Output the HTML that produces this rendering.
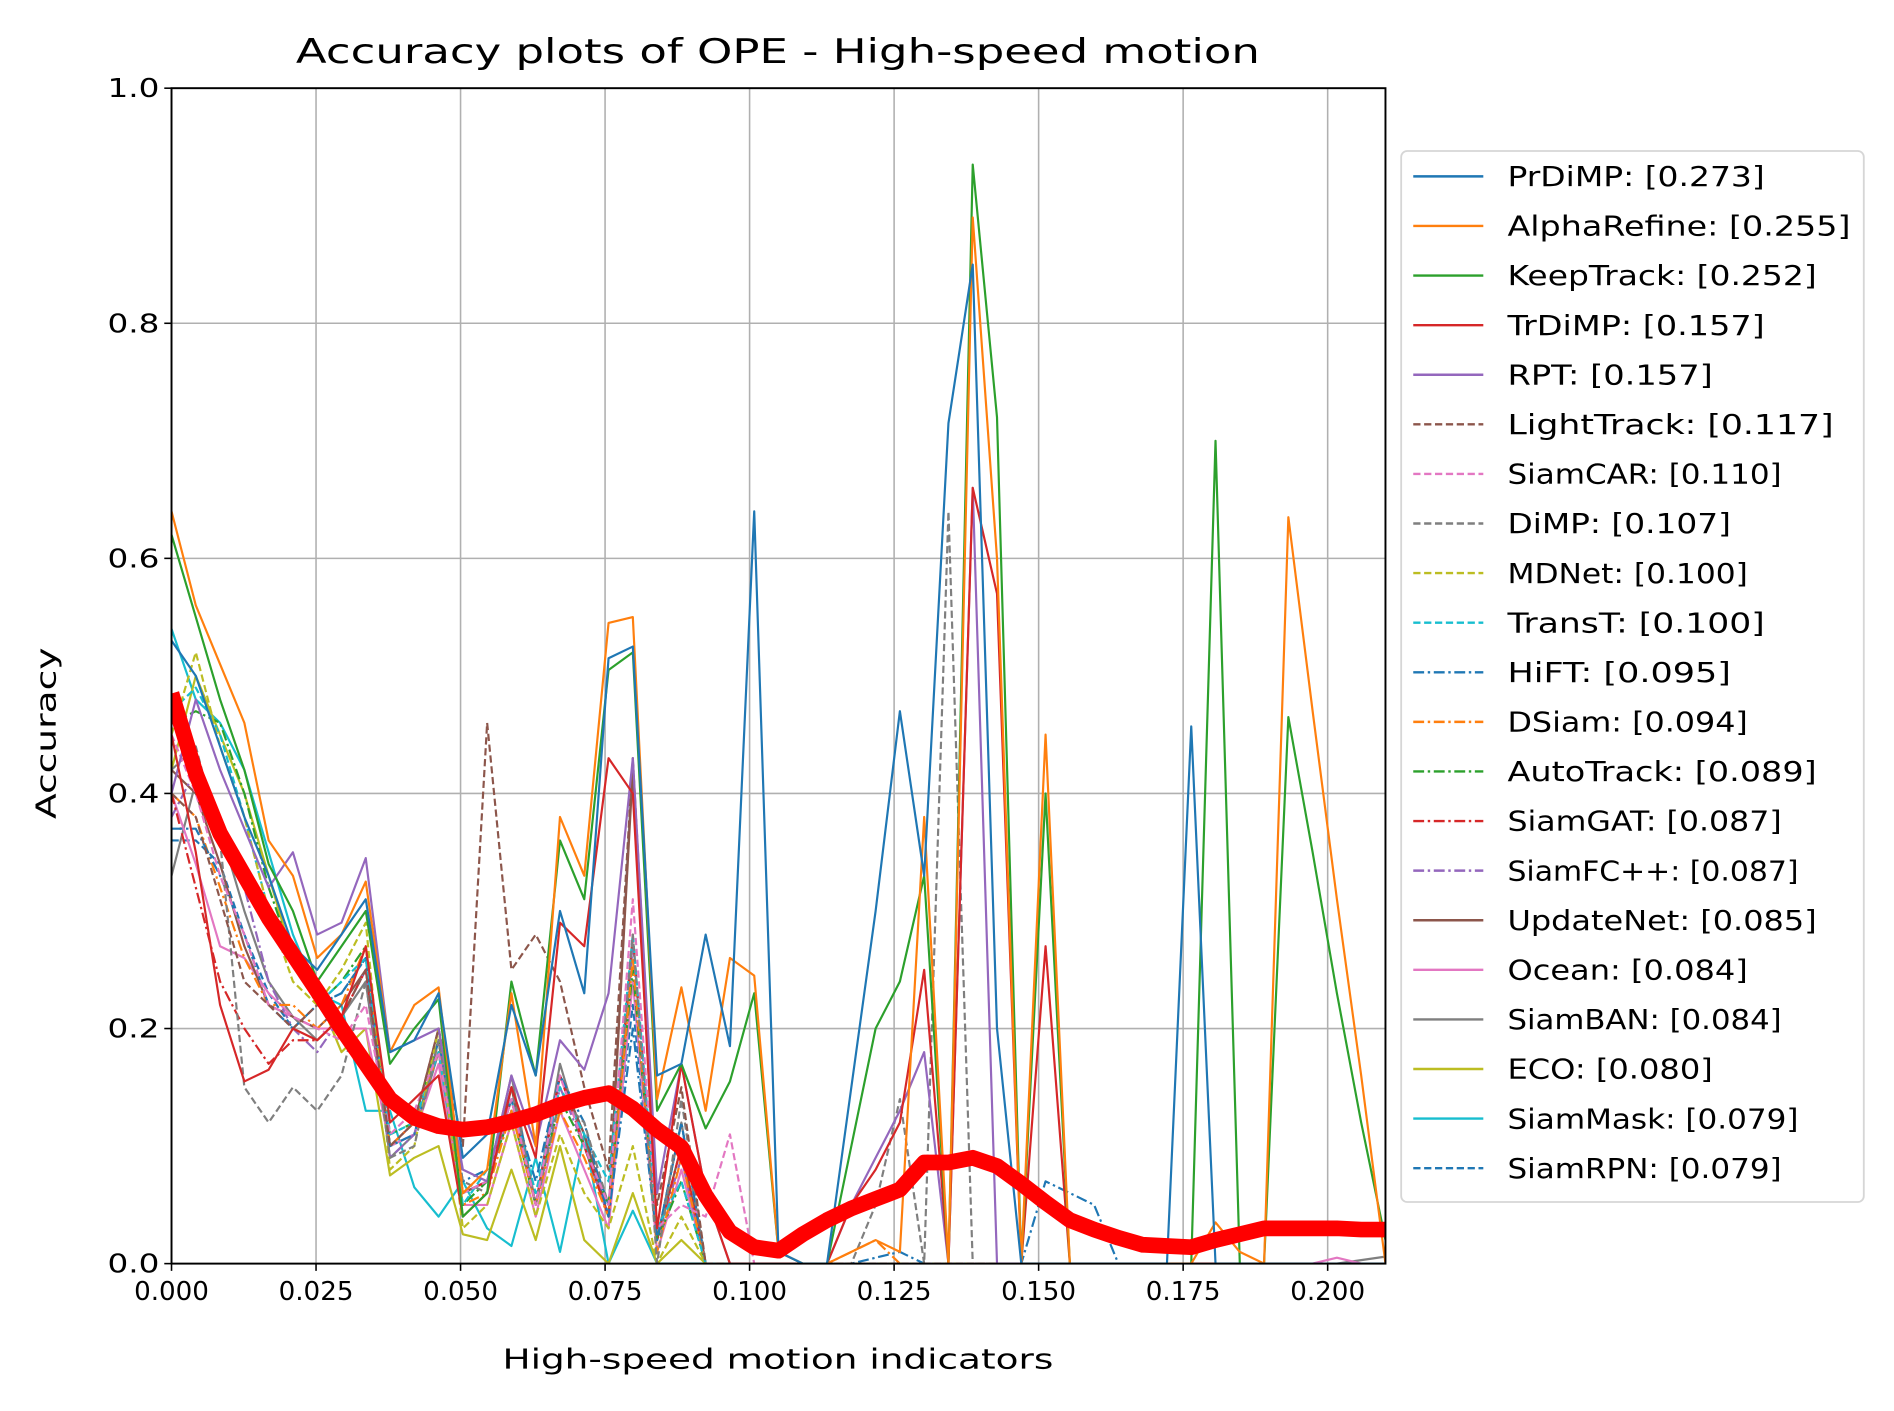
<!DOCTYPE html>
<html><head><meta charset="utf-8"><style>html,body{margin:0;padding:0;background:#fff}svg{display:block}</style></head>
<body>
<svg id="chart" width="1894" height="1411" viewBox="0 0 1568 1168" preserveAspectRatio="none" xmlns="http://www.w3.org/2000/svg" font-family="'DejaVu Sans','Liberation Sans',sans-serif">
<rect width="1568" height="1168" fill="#fff"/>
<text x="644" y="52" font-size="28" text-anchor="middle" textLength="798" lengthAdjust="spacingAndGlyphs">Accuracy plots of OPE - High-speed motion</text>
<g id="grid"></g>
<defs><clipPath id="clip"><rect x="142" y="73" width="1005" height="973"/></clipPath></defs>
<g id="series" clip-path="url(#clip)"></g>
<rect x="142" y="73" width="1005" height="973" fill="none" stroke="#000" stroke-width="1.6"/>
<g id="ticks"></g>
<text x="644" y="1133" font-size="22.5" text-anchor="middle" textLength="456" lengthAdjust="spacingAndGlyphs">High-speed motion indicators</text>
<text x="561" y="46" font-size="22.5" text-anchor="middle" textLength="142" lengthAdjust="spacingAndGlyphs" transform="rotate(-90 46 46) translate(-1076 0)">Accuracy</text>
<g id="legend"></g>
</svg>
<script>
const xTicks=[0,0.025,0.05,0.075,0.1,0.125,0.15,0.175,0.2];
const xTickLabels=["0.000","0.025","0.050","0.075","0.100","0.125","0.150","0.175","0.200"];
const yTicks=[0,0.2,0.4,0.6,0.8,1.0];
const yTickLabels=["0.0","0.2","0.4","0.6","0.8","1.0"];
const step=0.0042;
const names=["PrDiMP: [0.273]","AlphaRefine: [0.255]","KeepTrack: [0.252]","TrDiMP: [0.157]","RPT: [0.157]","LightTrack: [0.117]","SiamCAR: [0.110]","DiMP: [0.107]","MDNet: [0.100]","TransT: [0.100]","HiFT: [0.095]","DSiam: [0.094]","AutoTrack: [0.089]","SiamGAT: [0.087]","SiamFC++: [0.087]","UpdateNet: [0.085]","Ocean: [0.084]","SiamBAN: [0.084]","ECO: [0.080]","SiamMask: [0.079]","SiamRPN: [0.079]"];
const sPrDiMP=[.53,.50,.44,.38,.33,.27,.25,.28,.31,.18,.19,.23,.09,.11,.22,.16,.30,.23,.515,.525,.16,.17,.28,.185,.64,.01,0,0,.15,.30,.47,.33,.715,.85,.2,0,0,0,0,0,0,0,.457,0,0,0,0,0,0,0,0];
const sAlpha=[.64,.56,.51,.46,.36,.33,.26,.28,.325,.18,.22,.235,.06,.08,.23,.10,.38,.33,.545,.55,.14,.235,.13,.26,.245,.01,0,0,.01,.02,.01,.38,0,.89,.60,0,.45,0,0,0,0,0,0,.035,.01,0,.635,.47,.31,.16,0];
const sKeep=[.62,.55,.48,.42,.34,.30,.24,.27,.30,.17,.20,.225,.04,.06,.24,.16,.36,.31,.505,.52,.13,.17,.115,.155,.23,.01,0,0,.10,.20,.24,.33,0,.935,.72,0,.40,0,0,0,0,0,0,.70,0,0,.465,.35,.23,.12,.02];
const sTrDiMP=[.45,.35,.22,.155,.165,.20,.19,.21,.27,.12,.14,.16,.04,.06,.15,.09,.29,.27,.43,.40,.03,.17,.06,0,0,0,0,0,.05,.08,.12,.25,0,.66,.57,0,.27,0,0,0,0,0,0,0,0,0,0,0,0,0,0];
const sRPT=[.40,.48,.42,.37,.32,.35,.28,.29,.345,.18,.19,.20,.08,.07,.16,.10,.19,.165,.23,.43,.06,.17,.06,0,0,0,0,0,.05,.09,.13,.18,0,.66,0,0,0,0,0,0,0,0,0,0,0,0,0,0,0,0,0];
const sLight=[.40,.38,.31,.24,.22,.20,.22,.21,.25,.10,.12,.20,.10,.46,.25,.28,.24,.15,.08,.43,.05,.15,0,0,0,0,0,0,0,0,0,0,0,0,0,0,0,0,0,0,0,0,0,0,0,0,0,0,0,0,0];
const sCAR=[.45,.40,.33,.28,.22,.21,.20,.19,.22,.11,.13,.18,.06,.07,.14,.05,.16,.10,.05,.31,.03,.05,.04,.11,0,0,0,0,0,0,0,0,0,0,0,0,0,0,0,0,0,0,0,0,0,0,0,0,0,0,0];
const sDiMP=[.42,.44,.36,.15,.12,.15,.13,.16,.24,.09,.10,.19,.07,.06,.15,.05,.14,.12,.05,.28,0,.14,0,0,0,0,0,0,0,.05,.14,0,.64,0,0,0,0,0,0,0,0,0,0,0,0,0,0,0,0,0,0];
const sMDNet=[.45,.52,.44,.38,.30,.24,.22,.25,.29,.08,.10,.20,.03,.05,.12,.04,.11,.06,.03,.10,0,.04,0,0,0,0,0,0,0,0,0,0,0,0,0,0,0,0,0,0,0,0,0,0,0,0,0,0,0,0,0];
const sTransT=[.47,.49,.45,.38,.30,.26,.22,.24,.26,.11,.12,.18,.05,.08,.14,.06,.15,.11,.07,.28,.03,.07,0,0,0,0,0,0,0,0,0,0,0,0,0,0,0,0,0,0,0,0,0,0,0,0,0,0,0,0,0];
const sHiFT=[.37,.37,.33,.28,.22,.20,.22,.23,.26,.10,.11,.19,.07,.08,.14,.07,.16,.12,.04,.20,.02,.12,0,0,0,0,0,0,0,.005,.01,0,0,0,0,0,.07,.06,.05,0,0,0,0,0,0,0,0,0,0,0,0];
const sDSiam=[.40,.38,.32,.26,.22,.22,.20,.22,.27,.10,.12,.18,.05,.06,.13,.05,.13,.09,.04,.26,.01,.09,0,0,0,0,0,0,.01,.02,0,0,0,0,0,0,0,0,0,0,0,0,0,0,0,0,0,0,0,0,0];
const sAuto=[.46,.47,.46,.40,.32,.26,.22,.24,.27,.11,.12,.19,.05,.07,.13,.05,.14,.10,.05,.25,.02,.07,0,0,0,0,0,0,0,0,0,0,0,0,0,0,0,0,0,0,0,0,0,0,0,0,0,0,0,0,0];
const sGAT=[.40,.32,.24,.20,.17,.19,.19,.21,.25,.10,.12,.19,.06,.07,.14,.05,.16,.10,.04,.28,.02,.10,0,0,0,0,0,0,0,0,0,0,0,0,0,0,0,0,0,0,0,0,0,0,0,0,0,0,0,0,0];
const sFCpp=[.38,.42,.38,.32,.24,.20,.18,.21,.25,.09,.11,.19,.06,.07,.13,.05,.15,.10,.04,.27,.02,.09,0,0,0,0,0,0,0,0,0,0,0,0,0,0,0,0,0,0,0,0,0,0,0,0,0,0,0,0,0];
const sUpdate=[.42,.40,.34,.27,.22,.21,.20,.22,.25,.10,.12,.20,.06,.07,.15,.05,.16,.11,.04,.42,.02,.10,0,0,0,0,0,0,0,0,0,0,0,0,0,0,0,0,0,0,0,0,0,0,0,0,0,0,0,0,0];
const sOcean=[.40,.34,.27,.26,.23,.21,.20,.20,.20,.10,.11,.17,.05,.05,.12,.04,.13,.08,.03,.24,.01,.08,0,0,0,0,0,0,0,0,0,0,0,0,0,0,0,0,0,0,0,0,0,0,0,0,0,0,.005,0,0];
const sBAN=[.33,.41,.37,.30,.24,.21,.19,.21,.24,.09,.11,.18,.06,.07,.16,.05,.17,.10,.04,.43,.02,.12,0,0,0,0,0,0,0,0,0,0,0,0,0,0,0,0,0,0,0,0,0,0,0,0,0,0,0,.003,.006];
const sECO=[.42,.50,.45,.40,.33,.26,.23,.18,.20,.075,.09,.10,.025,.02,.08,.02,.10,.02,0,.06,0,.02,0,0,0,0,0,0,0,0,0,0,0,0,0,0,0,0,0,0,0,0,0,0,0,0,0,0,0,0,0];
const sMask=[.54,.48,.46,.42,.35,.28,.23,.22,.13,.13,.065,.04,.07,.03,.015,.09,.01,.11,0,.045,0,0,0,0,0,0,0,0,0,0,0,0,0,0,0,0,0,0,0,0,0,0,0,0,0,0,0,0,0,0,0];
const sRPN=[.36,.36,.34,.28,.23,.20,.22,.23,.26,.10,.11,.18,.06,.07,.14,.05,.16,.11,.05,.22,.02,.12,0,0,0,0,0,0,0,0,0,0,0,0,0,0,0,0,0,0,0,0,0,0,0,0,0,0,0,0,0];
const sOurs=[.485,.417,.366,.33,.294,.263,.232,.20,.17,.14,.124,.117,.114,.116,.121,.127,.135,.141,.145,.132,.114,.099,.058,.027,.014,.011,.025,.037,.047,.055,.063,.086,.086,.09,.083,.068,.052,.037,.029,.022,.016,.015,.014,.02,.025,.03,.03,.03,.03,.029,.029];
const seriesValues=[sPrDiMP,sAlpha,sKeep,sTrDiMP,sRPT,sLight,sCAR,sDiMP,sMDNet,sTransT,sHiFT,sDSiam,sAuto,sGAT,sFCpp,sUpdate,sOcean,sBAN,sECO,sMask,sRPN];
const pal=["#1f77b4","#ff7f0e","#2ca02c","#d62728","#9467bd","#8c564b","#e377c2","#7f7f7f","#bcbd22","#17becf"];
const NS="http://www.w3.org/2000/svg";
const X0=142,X1=1147,Y0=1046,Y1=73,XMAX=0.21;
const xs=v=>X0+(v/XMAX)*(X1-X0);
const ys=v=>Y0-v*(Y0-Y1);
function mk(tag,at,parent){const e=document.createElementNS(NS,tag);for(const k in at)e.setAttribute(k,at[k]);parent.appendChild(e);return e;}
const grid=document.getElementById('grid'),ticks=document.getElementById('ticks');
xTicks.forEach((t,i)=>{
 const g=mk('line',{x1:xs(t),x2:xs(t),y1:Y1,y2:Y0,stroke:'#b0b0b0','stroke-width':1.3},grid);
 
 
 mk('line',{x1:xs(t),x2:xs(t),y1:Y0,y2:Y0+6,stroke:'#000','stroke-width':1.3},ticks);
 const tx=mk('text',{x:xs(t),y:Y0+30,'font-size':21,'text-anchor':'middle',textLength:62,lengthAdjust:'spacingAndGlyphs'},ticks);
 tx.textContent=xTickLabels[i];
 
 
});
yTicks.forEach((t,i)=>{
 const g=mk('line',{x1:X0,x2:X1,y1:ys(t),y2:ys(t),stroke:'#b0b0b0','stroke-width':1.3},grid);
 
 
 mk('line',{x1:X0-6,x2:X0,y1:ys(t),y2:ys(t),stroke:'#000','stroke-width':1.3},ticks);
 const tx=mk('text',{x:X0-10,y:ys(t)+7.5,'font-size':21,'text-anchor':'end',textLength:43,lengthAdjust:'spacingAndGlyphs'},ticks);
 tx.textContent=yTickLabels[i];
 
 
});
function dashFor(i){return i<5?'':(i<10?'6,3':(i<15?'9,3,2,3':(i<20?'':'6,3')));}
const sg=document.getElementById('series');
function pts(arr){return arr.map((v,j)=>xs(j*step).toFixed(1)+','+ys(v).toFixed(1)).join(' ');}
for(let i=seriesValues.length-1;i>=0;i--){
 const p=mk('polyline',{points:pts(seriesValues[i]),fill:'none',stroke:pal[i%10],'stroke-width':1.8,'stroke-dasharray':dashFor(i),'stroke-linejoin':'round'},sg);
 
 
}
const ours=mk('polyline',{points:pts(sOurs),fill:'none',stroke:'#ff0000','stroke-width':13,'stroke-linejoin':'round'},sg);


const lg=document.getElementById('legend');
const box=mk('rect',{x:1160,y:125,width:383,height:870,rx:5,fill:'#fff',stroke:'#d6d6d6','stroke-width':1.5},lg);


names.forEach((n,i)=>{
 const y=146+i*41.05;
 const l=mk('line',{x1:1170,x2:1228,y1:y,y2:y,stroke:pal[i%10],'stroke-width':2,'stroke-dasharray':dashFor(i)},lg);
 
 
 const t=mk('text',{x:1248,y:y+8,'font-size':22.5,textLength:(n.length*14.2).toFixed(0),lengthAdjust:'spacingAndGlyphs'},lg);
 t.textContent=n;
 
 
});
</script>
</body></html>
